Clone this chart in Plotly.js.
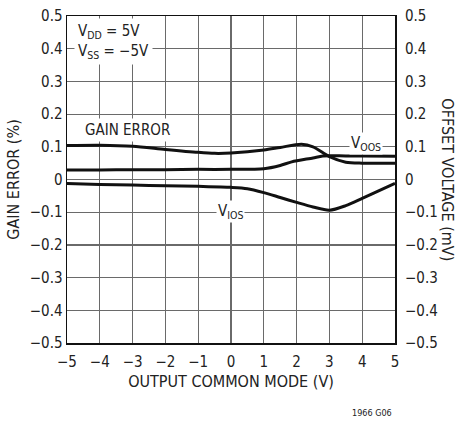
<!DOCTYPE html>
<html>
<head>
<meta charset="utf-8">
<script src="https://cdn.plot.ly/plotly-3.0.1.min.js"></script>
<style>
html,body{margin:0;padding:0;background:#fff;}
#chart{width:461px;height:421px;}
</style>
</head>
<body>
<div id="chart"></div>
<script>
// Data
const xGain = [-5, -4, -3, -2, -1, -0.5, 0, 1, 1.5, 2.15, 2.5, 3, 3.5, 4, 5];
const yGain = [0.104, 0.105, 0.102, 0.092, 0.083, 0.080, 0.081, 0.090, 0.098, 0.108, 0.100, 0.070, 0.053, 0.050, 0.050];

const xVoos = [-5, -4, -3, -2, -1, 0, 1, 1.5, 1.85, 2.5, 2.8, 3.5, 4, 5];
const yVoos = [0.029, 0.029, 0.030, 0.030, 0.031, 0.031, 0.033, 0.043, 0.054, 0.066, 0.072, 0.072, 0.072, 0.071];

const xVios = [-5, -4, -3, -2, -1, 0, 0.5, 1, 1.5, 2, 2.5, 3, 3.5, 4, 4.5, 5];
const yVios = [-0.012, -0.015, -0.017, -0.019, -0.021, -0.024, -0.028, -0.040, -0.055, -0.070, -0.084, -0.094, -0.080, -0.058, -0.035, -0.012];

const xTicks = [-5, -4, -3, -2, -1, 0, 1, 2, 3, 4, 5];
const xTickText = ['\u22125', '\u22124', '\u22123', '\u22122', '\u22121', '0', '1', '2', '3', '4', '5'];
const yTicks = [-0.5, -0.4, -0.3, -0.2, -0.1, 0, 0.1, 0.2, 0.3, 0.4, 0.5];
const yTickText = ['\u22120.5', '\u22120.4', '\u22120.3', '\u22120.2', '\u22120.1', '0', '0.1', '0.2', '0.3', '0.4', '0.5'];

const FONT = '"Liberation Sans Narrow", "DejaVu Sans Condensed", Arial, sans-serif';
const TXT = '#222';
const lineStyle = {color: '#111', width: 3, shape: 'spline', smoothing: 0.8};

const traces = [
  {x: xGain, y: yGain, mode: 'lines', line: lineStyle, hoverinfo: 'skip', showlegend: false},
  {x: xVoos, y: yVoos, mode: 'lines', line: lineStyle, hoverinfo: 'skip', showlegend: false},
  {x: xVios, y: yVios, mode: 'lines', line: lineStyle, hoverinfo: 'skip', showlegend: false},
  {x: [0], y: [0], yaxis: 'y2', mode: 'markers', marker: {opacity: 0}, hoverinfo: 'skip', showlegend: false}
];

const gridColor = '#6a6a6a';
const layout = {
  width: 461, height: 421,
  margin: {l: 67, r: 66, t: 16, b: 78},
  paper_bgcolor: '#fff', plot_bgcolor: '#fff',
  font: {family: FONT, size: 15, color: TXT},
  xaxis: {
    range: [-5, 5], tickvals: xTicks, ticktext: xTickText,
    showgrid: true, gridcolor: gridColor, gridwidth: 1.2,
    zeroline: false, showline: true, linecolor: '#111', linewidth: 1.5, mirror: true,
    ticks: '', ticklen: 0, ticklabelstandoff: 4,
    title: {text: 'OUTPUT COMMON MODE (V)', font: {family: FONT, size: 16, color: TXT}, standoff: 6},
    fixedrange: true
  },
  yaxis: {
    range: [-0.5, 0.5], tickvals: yTicks, ticktext: yTickText,
    showgrid: true, gridcolor: gridColor, gridwidth: 1.2,
    zeroline: false, showline: true, linecolor: '#111', linewidth: 1.5, mirror: true,
    ticks: '', ticklen: 0,
    title: {text: 'GAIN ERROR (%)', font: {family: FONT, size: 16, color: TXT}, standoff: 6},
    fixedrange: true
  },
  yaxis2: {
    overlaying: 'y', side: 'right', range: [-0.5, 0.5],
    tickvals: yTicks, ticktext: yTickText,
    showgrid: false, zeroline: false, showline: false, ticks: '', ticklabelstandoff: 9,
    fixedrange: true
  },
  annotations: [
    {xref: 'x', yref: 'y', x: -4.78, y: 0.495, xanchor: 'left', yanchor: 'top', align: 'left',
     text: 'V<sub>DD</sub> = 5V<br>V<sub>SS</sub> = \u22125V', showarrow: false,
     bgcolor: '#fff', borderpad: 3, font: {family: FONT, size: 15, color: TXT}},
    {xref: 'x', yref: 'y', x: -3.17, y: 0.15, text: 'GAIN ERROR', showarrow: false,
     bgcolor: '#fff', borderpad: 2, font: {family: FONT, size: 15, color: TXT}},
    {xref: 'x', yref: 'y', x: 4.12, y: 0.11, yanchor: 'middle', text: 'V<sub>OOS</sub>', showarrow: false,
     bgcolor: '#fff', borderpad: 1, font: {family: FONT, size: 15, color: TXT}},
    {xref: 'x', yref: 'y', x: -0.03, y: -0.097, yanchor: 'middle', text: 'V<sub>IOS</sub>', showarrow: false,
     bgcolor: '#fff', borderpad: 1, font: {family: FONT, size: 15, color: TXT}},
    {xref: 'paper', yref: 'paper', x: 1.159, y: 0.5, xanchor: 'center', yanchor: 'middle', textangle: 90,
     text: 'OFFSET VOLTAGE (mV)', showarrow: false, font: {family: FONT, size: 16, color: TXT}},
    {xref: 'paper', yref: 'paper', x: 0.997, y: -0.214, xanchor: 'right', yanchor: 'middle', text: '1966 G06',
     showarrow: false, font: {family: FONT, size: 9, color: TXT}}
  ]
};

Plotly.newPlot('chart', traces, layout, {displayModeBar: false, staticPlot: true});
</script>
</body>
</html>
